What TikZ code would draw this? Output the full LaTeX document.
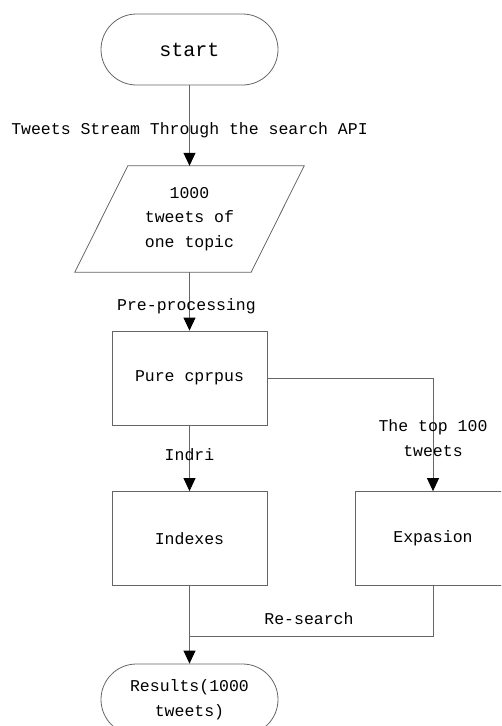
\documentclass[tikz,border=0pt]{standalone}
\usepackage{fontspec}
\setmainfont{Liberation Mono}
\usetikzlibrary{arrows.meta}
\tikzset{
  base/.style={font=\fontsize{16.5}{24.5}\selectfont, inner sep=0pt, align=center},
  term/.style={base, draw=black!60, line width=0.8pt, minimum width=177pt, minimum height=71pt, rounded corners=35.5pt},
  procbox/.style={base, draw=black!60, line width=0.8pt, minimum width=155pt, minimum height=94pt},
  plain/.style={base},
  conn/.style={draw=black!60, line width=0.8pt},
  arr/.style={conn, -{Triangle[width=12pt,length=13pt,fill=black,color=black]}},
  lbl/.style={base}
}
\begin{document}
\begin{tikzpicture}[x=1pt,y=-1pt]
\clip (0,0) rectangle (501,726);
\useasboundingbox (0,0) rectangle (501,726);
\fill[white] (0,0) rectangle (501,726);
\node[term, font=\fontsize{20}{24}\selectfont] (start) at (189.5,49.5) {start};
\node[plain, minimum width=176pt, minimum height=106pt] (data) at (189.5,219) {1000\\tweets of\\one topic};
\draw[conn] ([xshift=26.5pt]data.north west) -- ([xshift=26.5pt]data.north east) -- ([xshift=-26.5pt]data.south east) -- ([xshift=-26.5pt]data.south west) -- cycle;
\node[procbox] (pure) at (189.5,378) {Pure cprpus};
\node[procbox] (idx) at (189.5,538.5) {Indexes};
\node[procbox, minimum width=156pt] (exp) at (433,538.5) {Expasion};
\node[term] (res) at (189.5,699.5) {Results(1000\\tweets)};
\coordinate (turn1) at (433,378);
\coordinate (join) at (189.5,636);
\coordinate (turn2) at (433,636);
\draw[arr] (start.south) -- (data.north);
\draw[arr] (data.south) -- (pure.north);
\draw[arr] (pure.south) -- (idx.north);
\draw[arr] (pure.east) -- (turn1) -- (exp.north);
\draw[arr] (idx.south) -- (res.north);
\draw[conn] (exp.south) -- (turn2) -- (join);
\node[lbl] (l1) at (189.5,130) {Tweets Stream Through the search API};
\node[lbl] (l2) at (186.5,306) {Pre-processing};
\node[lbl] (l3) at (189.5,455) {Indri};
\node[lbl] (l4) at (433,438) {The top 100\\tweets};
\node[lbl] (l5) at (309,619) {Re-search};
\end{tikzpicture}
\end{document}
